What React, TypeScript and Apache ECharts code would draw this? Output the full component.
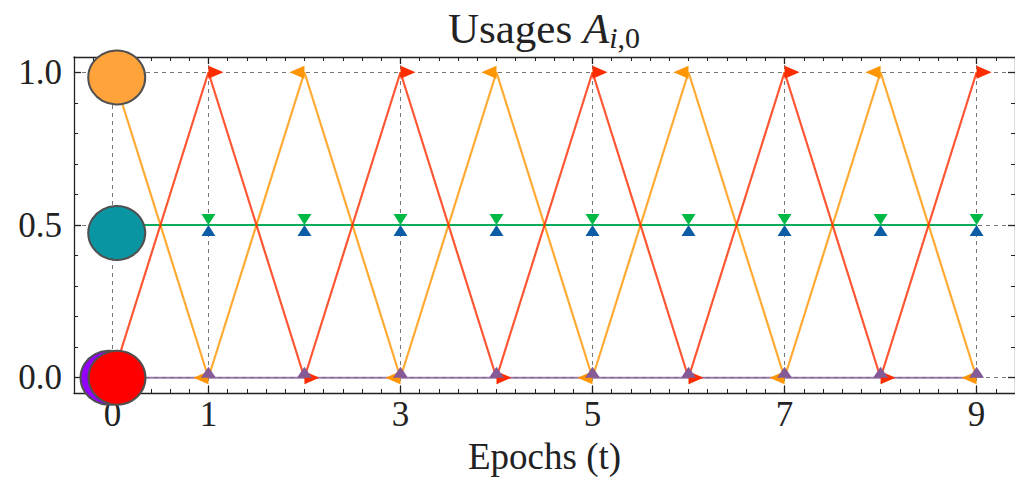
import React, { useEffect, useRef } from "react";
import * as echarts from "echarts";

// ---- data ----
const epochs = [0, 1, 2, 3, 4, 5, 6, 7, 8, 9];
const usageBlue = [0.5, 0.5, 0.5, 0.5, 0.5, 0.5, 0.5, 0.5, 0.5, 0.5];
const usageGreen = [0.5, 0.5, 0.5, 0.5, 0.5, 0.5, 0.5, 0.5, 0.5, 0.5];
const usageOrange = [1, 0, 1, 0, 1, 0, 1, 0, 1, 0];
const usageRed = [0, 1, 0, 1, 0, 1, 0, 1, 0, 1];
const usagePurple = [0, 0, 0, 0, 0, 0, 0, 0, 0, 0];

// big highlighted points at t = 0
const circleEpochs = [-0.035, 0.048, 0.045, 0.045];
const circleValues = [0.0, 0.0, 0.983, 0.474];
const circleColors = ["#9400FF", "#FF0000", "#FFA33A", "#0A95A3"];

// ticks
const xTickValues = [0, 1, 3, 5, 7, 9];
const yTickValues = [0, 0.5, 1.0];
const xMinorTickValues = [
  -0.4, -0.2, 0, 0.2, 0.4, 0.6, 0.8, 1, 1.2, 1.4, 1.6, 1.8, 2, 2.2, 2.4, 2.6, 2.8, 3,
  3.2, 3.4, 3.6, 3.8, 4, 4.2, 4.4, 4.6, 4.8, 5, 5.2, 5.4, 5.6, 5.8, 6, 6.2, 6.4, 6.6,
  6.8, 7, 7.2, 7.4, 7.6, 7.8, 8, 8.2, 8.4, 8.6, 8.8, 9, 9.2, 9.4,
];
const yMinorTickValues = [0, 0.1, 0.2, 0.3, 0.4, 0.5, 0.6, 0.7, 0.8, 0.9, 1.0];

const titleText = "Usages";
const xAxisName = "Epochs (t)";

const FONT = "'Liberation Serif', 'DejaVu Serif', serif";
const AX = "#222";

export default function App() {
  const ref = useRef<HTMLDivElement>(null);
  useEffect(() => {
    if (!ref.current) return;
    const chart = echarts.init(ref.current, undefined, { renderer: "svg" });
    const gridBox = { left: 74, top: 57, width: 941, height: 336 };
    const xRange = { min: -0.4, max: 9.4 };
    const yRange = { min: -0.05, max: 1.05 };

    const majorX = (position: string, withLabels: boolean) => ({
      type: "value",
      gridIndex: 0,
      position,
      ...xRange,
      axisLine: { show: true, onZero: false, lineStyle: { color: AX, width: 1.3 } },
      axisTick: { show: true, inside: true, length: 7, customValues: xTickValues, lineStyle: { color: AX, width: 1.3 } },
      axisLabel: withLabels
        ? { show: true, customValues: xTickValues, fontSize: 35, fontFamily: FONT, color: AX, margin: 4 }
        : { show: false },
      splitLine: withLabels
        ? { show: true, lineStyle: { color: "#777", width: 1, type: [4, 4] } }
        : { show: false },
      name: withLabels ? xAxisName : "",
      nameLocation: "middle",
      nameGap: 44,
      nameTextStyle: { fontSize: 37, fontFamily: FONT, color: AX, lineHeight: 38 },
    });
    const minorX = (position: string) => ({
      type: "value",
      gridIndex: 1,
      position,
      ...xRange,
      axisLine: { show: false, onZero: false },
      axisTick: { show: true, inside: true, length: 4, customValues: xMinorTickValues, lineStyle: { color: AX, width: 1 } },
      axisLabel: { show: false },
      splitLine: { show: false },
    });
    const majorY = (position: string, withLabels: boolean) => ({
      type: "value",
      gridIndex: 0,
      position,
      ...yRange,
      axisLine: { show: true, onZero: false, lineStyle: { color: AX, width: 1.3 } },
      axisTick: { show: true, inside: true, length: 7, customValues: yTickValues, lineStyle: { color: AX, width: 1.3 } },
      axisLabel: withLabels
        ? {
            show: true,
            customValues: yTickValues,
            fontSize: 35,
            fontFamily: FONT,
            color: AX,
            margin: 12,
            formatter: (v: number) => v.toFixed(1),
          }
        : { show: false },
      splitLine: withLabels
        ? { show: true, lineStyle: { color: "#777", width: 1, type: [4, 4] } }
        : { show: false },
    });
    const minorY = (position: string) => ({
      type: "value",
      gridIndex: 1,
      position,
      ...yRange,
      axisLine: { show: false, onZero: false },
      axisTick: { show: true, inside: true, length: 4, customValues: yMinorTickValues, lineStyle: { color: AX, width: 1 } },
      axisLabel: { show: false },
      splitLine: { show: false },
    });

    const lineSeries = (
      name: string,
      values: number[],
      color: string,
      rotate: number,
      size: number[],
      offset: number[]
    ) => ({
      type: "line",
      name,
      xAxisIndex: 0,
      yAxisIndex: 0,
      data: epochs.map((t, i) => [t, values[i]]),
      symbol: "triangle",
      symbolSize: size,
      symbolRotate: rotate,
      symbolOffset: offset,
      showSymbol: true,
      showAllSymbol: true,
      clip: false,
      lineStyle: { color, width: 2.2, opacity: 0.8 },
      itemStyle: { color, borderWidth: 0 },
      emphasis: { disabled: true },
      silent: true,
    });

    chart.setOption({
      animation: false,
      backgroundColor: "#fff",
      grid: [
        { ...gridBox, outerBoundsMode: "none", containLabel: false },
        { ...gridBox, outerBoundsMode: "none", containLabel: false },
      ],
      xAxis: [majorX("bottom", true), majorX("top", false), minorX("bottom"), minorX("top")],
      yAxis: [majorY("left", true), majorY("right", false), minorY("left"), minorY("right")],
      series: [
        lineSeries("blue", usageBlue, "#0C5DA5", 0, [14, 11], [0, 5.5]),
        lineSeries("green", usageGreen, "#00B945", 180, [14, 11], [0, -5.5]),
        lineSeries("orange", usageOrange, "#FF9500", 90, [13, 15], [-7.5, 0]),
        lineSeries("red", usageRed, "#FF2C00", -90, [13, 15], [7.5, 0]),
        lineSeries("purple", usagePurple, "#845B97", 0, [15, 11], [0, -5.5]),
        {
          type: "scatter",
          xAxisIndex: 0,
          yAxisIndex: 0,
          clip: false,
          silent: true,
          symbol: "circle",
          symbolSize: [57, 54],
          data: circleEpochs.map((t, i) => ({
            value: [t, circleValues[i]],
            itemStyle: { color: circleColors[i], borderColor: "#505050", borderWidth: 2, opacity: 1 },
          })),
          itemStyle: { opacity: 1 },
          emphasis: { disabled: true },
          z: 10,
        },
      ],
      graphic: [
        {
          type: "text",
          x: 544,
          y: 28,
          z: 100,
          style: {
            text: `{n|${titleText} }{a|A}{si|i}{s|,0}`,
            align: "center",
            verticalAlign: "middle",
            rich: {
              n: { fontSize: 43, fontFamily: FONT, fill: AX, color: AX },
              a: { fontSize: 43, fontFamily: FONT, fontStyle: "italic", fill: AX, color: AX },
              si: { fontSize: 30, fontFamily: FONT, fontStyle: "italic", fill: AX, color: AX, padding: [18, 0, 0, 0] },
              s: { fontSize: 30, fontFamily: FONT, fill: AX, color: AX, padding: [18, 0, 0, 0] },
            },
          },
        },
      ],
    });
    return () => chart.dispose();
  }, []);
  return (
    <div
      ref={ref}
      style={{ position: "fixed", left: 0, top: 0, width: 1015, height: 478, background: "#fff" }}
    />
  );
}
